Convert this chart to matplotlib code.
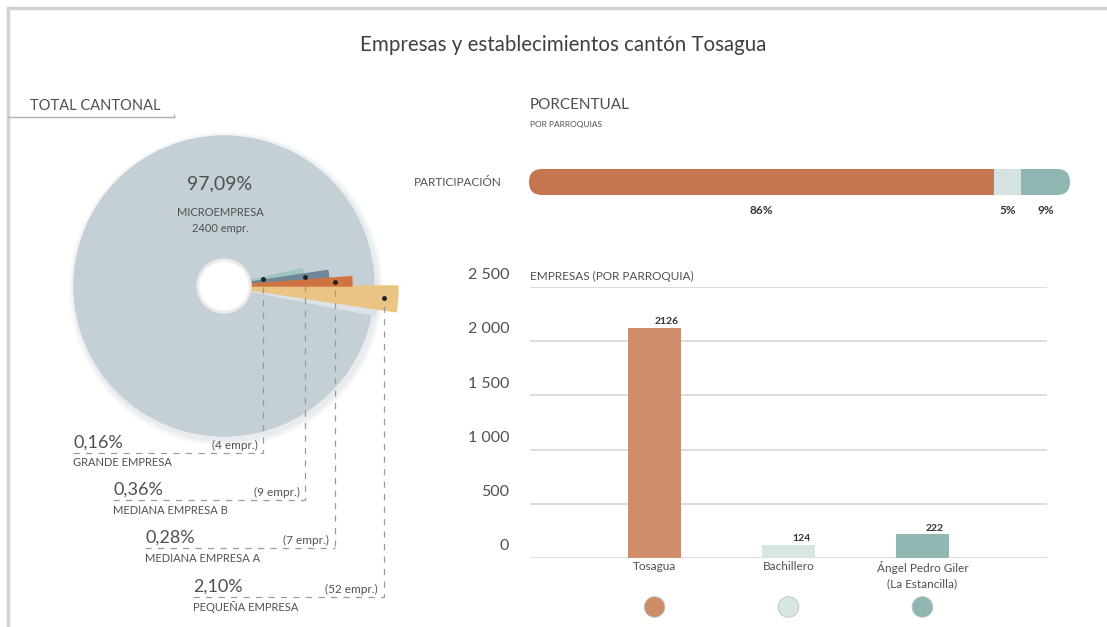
import numpy as np
import matplotlib
matplotlib.use("Agg")
import matplotlib.pyplot as plt
from matplotlib.patches import Wedge, Circle, FancyBboxPatch, BoxStyle

# Datos: empresas por tamano (total cantonal)
micro_pct = 97.09
micro_count = 2400
size_names = ["GRANDE EMPRESA", "MEDIANA EMPRESA B", "MEDIANA EMPRESA A", "PEQUEÑA EMPRESA"]
size_pcts = [0.16, 0.36, 0.28, 2.10]
size_counts = [4, 9, 7, 52]

# Datos: empresas por parroquia
parishes = ["Tosagua", "Bachillero", "Ángel Pedro Giler\n(La Estancilla)"]
parish_counts = [2126, 124, 222]
parish_share = [86, 5, 9]
y_ticks = [0, 500, 1000, 1500, 2000, 2500]

# Estilos
W, H = 1107, 627
plt.rcParams['font.family'] = ['Lato', 'DejaVu Sans']
txt = "#505050"
micro_color = "#c5cfd6"
size_colors = ["#9cc6bf", "#6f8796", "#cf7341", "#eac482"]
size_radius = [80, 105, 128, 174]     # largo de cada cuna (px)
dot_radius = [40, 82, 111, 160]       # donde va el punto sobre cada cuna
label_x0 = [73, 113, 145, 193]        # inicio de cada etiqueta
label_line_y = [453, 500, 548, 597]   # linea punteada bajo cada etiqueta
share_colors = ["#c5754f", "#d4e3e1", "#8fb6b1"]
bar_colors = ["#d08d6c", "#d7e5e3", "#90b7b2"]
dot_colors = ["#cf8c69", "#d7e5e3", "#8fb6b1"]

fig = plt.figure(figsize=(W / 100, H / 100), dpi=100)

# Capa de fondo en pixeles (y hacia abajo) para el pastel y las anotaciones
ax0 = fig.add_axes([0, 0, 1, 1])
ax0.set_xlim(0, W)
ax0.set_ylim(H, 0)
ax0.axis("off")

# Marco
ax0.plot([8, W], [8, 8], color="#d2d2d2", lw=2.5)
ax0.plot([8, 8], [8, H], color="#d2d2d2", lw=2.5)

# Titulo
ax0.text(563, 45, "Empresas y establecimientos cantón Tosagua", ha="center", va="center",
         fontsize=14.8, color="#404040")

# TOTAL CANTONAL
ax0.text(30, 106, "TOTAL CANTONAL", ha="left", va="center", fontsize=10.5, color=txt)
ax0.plot([8, 174], [117, 117], color="#b0b0b0", lw=1)
ax0.plot([174, 174], [115, 117], color="#b0b0b0", lw=1)

# Pastel: circulo grande (microempresa) + cunas pequenas
cx, cy, R = 224, 286, 150
# sombra suave
for k, al in [(7, 0.25), (5, 0.35), (3, 0.5)]:
    ax0.add_patch(Circle((cx + 2, cy + 3), R + k, color="#e3e7ea", alpha=al, lw=0, zorder=1))
ax0.add_patch(Circle((cx, cy), R, color=micro_color, zorder=2))

# ancho angular de cada cuna a partir del porcentaje
widths = [3.5 + 2.4 * p for p in size_pcts]
# pequena va hacia abajo desde 0 grados, las otras se apilan hacia arriba
starts = {}
a = 0.0
for i in [2, 1, 0]:
    starts[i] = (a, a + widths[i])
    a += widths[i]
starts[3] = (-widths[3], 0.0)

# sombra bajo la pequena empresa
ax0.add_patch(Wedge((cx, cy), size_radius[3] - 20, -starts[3][0] - 0.5, -starts[3][0] + 2.5,
                    color="#dce2e6", zorder=3))
for i in [3, 0, 1, 2]:
    a1, a2 = starts[i]
    # eje y invertido: los angulos se invierten
    ax0.add_patch(Wedge((cx, cy), size_radius[i], -a2, -a1, color=size_colors[i], zorder=4))

# agujero central
ax0.add_patch(Circle((cx, cy), 27, color="#ebebeb", zorder=5))
ax0.add_patch(Circle((cx, cy), 24, color="white", zorder=6))

ax0.text(cx - 4, 184, f"{micro_pct:.2f}%".replace(".", ","), ha="center", va="center",
         fontsize=14, color=txt, zorder=7)
ax0.text(cx - 4, 213, "MICROEMPRESA", ha="center", va="center", fontsize=8, color=txt, zorder=7)
ax0.text(cx - 4, 229, f"{micro_count} empr.", ha="center", va="center", fontsize=8, color=txt, zorder=7)

# Puntos, lineas punteadas y etiquetas de las cunas pequenas
for i in range(4):
    a1, a2 = starts[i]
    mid = np.radians((a1 + a2) / 2)
    px = cx + dot_radius[i] * np.cos(mid)
    py = cy - dot_radius[i] * np.sin(mid)
    ax0.plot(px, py, "o", color="#222222", ms=2.5, zorder=8)
    ly = label_line_y[i]
    ax0.plot([px, px], [py + 8, ly], color="#9a9a9a", lw=0.9, ls=(0, (5, 5)), zorder=8)
    ax0.plot([label_x0[i], px], [ly, ly], color="#9a9a9a", lw=0.9, ls=(0, (5, 5)), zorder=8)
    ax0.text(label_x0[i], ly - 10, f"{size_pcts[i]:.2f}%".replace(".", ","), ha="left", va="center",
             fontsize=13, color=txt)
    ax0.text(px - 6, ly - 8, f"({size_counts[i]} empr.)", ha="right", va="center",
             fontsize=8.5, color=txt)
    ax0.text(label_x0[i], ly + 10, size_names[i], ha="left", va="center", fontsize=8, color=txt)

# PORCENTUAL
ax0.text(530, 105, "PORCENTUAL", ha="left", va="center", fontsize=11, color=txt)
ax0.text(530, 124, "POR PARROQUIAS", ha="left", va="center", fontsize=6, color=txt)
ax0.text(502, 183, "PARTICIPACIÓN", ha="right", va="center", fontsize=8.5, color=txt)

# Barra de participacion (apilada, con extremos redondeados)
axp = fig.add_axes([529 / W, 1 - 195 / H, 541 / W, 26 / H])
axp.set_xlim(0, 100)
axp.set_ylim(0, 1)
axp.axis("off")
r_x = 13 / 5.41
clip = FancyBboxPatch((0, 0), 100, 1, boxstyle=BoxStyle.Round(pad=0, rounding_size=r_x),
                      mutation_aspect=0.5 / r_x, transform=axp.transData)
left = 0
for share, col in zip(parish_share, share_colors):
    bars = axp.barh(0.5, share, left=left, height=1, color=col)
    for b in bars:
        b.set_clip_path(clip)
    axp.text(left + share / 2, -0.58, f"{share}%", ha="center", va="center",
             fontsize=8.5, color="#333333", weight="bold", clip_on=False)
    left += share

# Barras por parroquia
axb = fig.add_axes([530 / W, 1 - 558 / H, 517 / W, 271 / H])
axb.set_xlim(-0.93, 2.93)
axb.set_ylim(0, 2500)
for s in axb.spines.values():
    s.set_visible(False)
axb.set_xticks([])
axb.set_yticks([])
for v in y_ticks:
    axb.axhline(v, color="#dadada", lw=1.3, zorder=0)
    axb.text(-0.04, v + 45, f"{v:,}".replace(",", " "), transform=axb.get_yaxis_transform(),
             ha="right", va="bottom", fontsize=11.5, color=txt)
axb.text(0, 2500 + 45, "EMPRESAS (POR PARROQUIA)", transform=axb.get_yaxis_transform(),
         ha="left", va="bottom", fontsize=8.5, color=txt)

xs = np.arange(len(parishes))
axb.bar(xs, parish_counts, width=0.4, color=bar_colors, zorder=2)
for x, v in zip(xs, parish_counts):
    axb.annotate(str(v), xy=(x, v), xytext=(9, 1), textcoords="offset points",
                 ha="center", va="bottom", fontsize=7.5, weight="bold", color="#333333")
for x, name in zip(xs, parishes):
    axb.annotate(name, xy=(x, 0), xytext=(0, -2), textcoords="offset points",
                 ha="center", va="top", fontsize=8.5, color=txt, linespacing=1.5)
axb.scatter(xs, [-452] * len(xs), s=220, c=dot_colors, edgecolors="#b8c4c4",
            linewidths=0.6, clip_on=False, zorder=3)

fig.savefig("out.png", dpi=100)
